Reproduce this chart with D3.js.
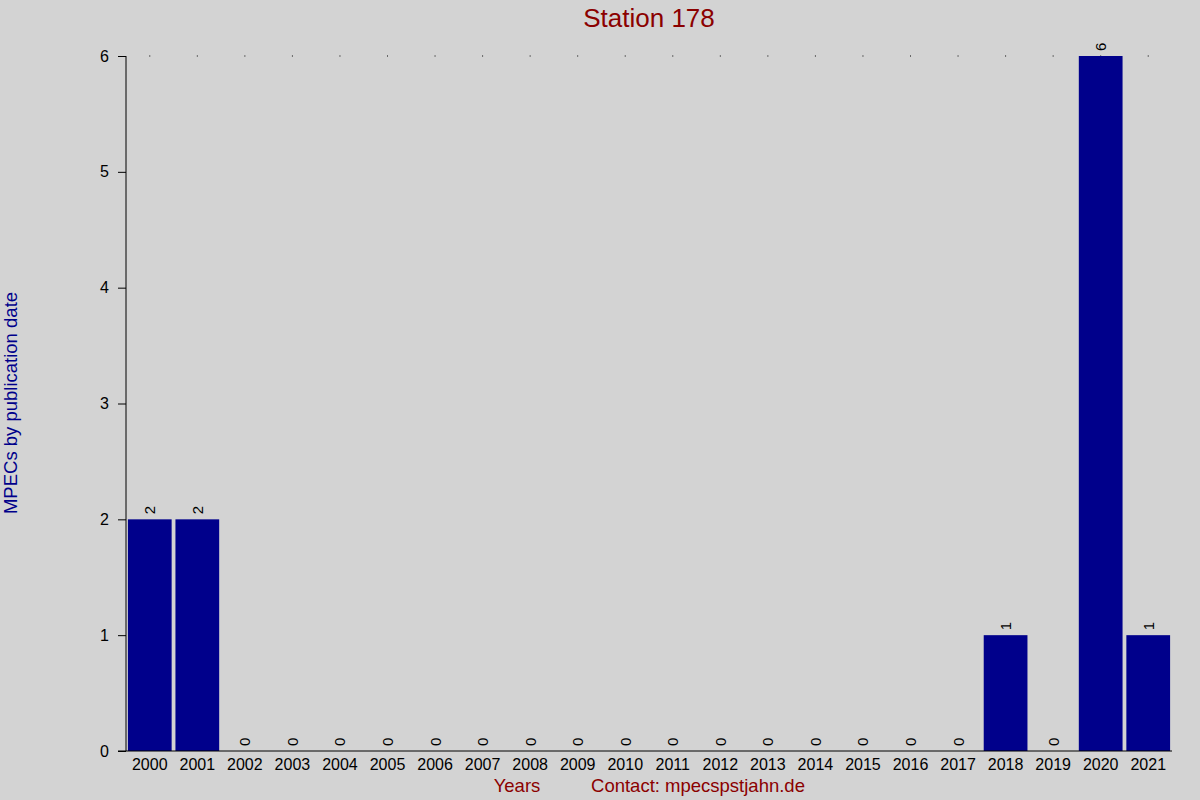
<!DOCTYPE html>
<html><head><meta charset="utf-8">
<script src="https://cdn.jsdelivr.net/npm/d3@7"></script>
<style>body{margin:0;background:#d3d3d3;} svg{display:block;}</style>
</head><body>
<script>
const years = ["2000","2001","2002","2003","2004","2005","2006","2007","2008","2009","2010","2011","2012","2013","2014","2015","2016","2017","2018","2019","2020","2021"];
const counts = [2,2,0,0,0,0,0,0,0,0,0,0,0,0,0,0,0,0,1,0,6,1];
const yTicks = [0,1,2,3,4,5,6];
const titleText = "Station 178";
const yLabel = "MPECs by publication date";
const xLabel = "Years";
const contact = "Contact: mpecspstjahn.de";

(function(){
const W = 1200, H = 800;
const svg = d3.select("body").append("svg").attr("width", W).attr("height", H)
  .style("font-family", "'Liberation Sans', Arial, sans-serif");
svg.append("rect").attr("width", W).attr("height", H).attr("fill", "#d3d3d3");

const pLeft = 126, pRight = 1172, pTop = 56, pBottom = 751;
const x = d3.scaleBand().domain(years).range([pLeft, pRight]).paddingInner(0.08).paddingOuter(0.04);
const y = d3.scaleLinear().domain([0, 6]).range([pBottom, pTop]);

// top dots
svg.append("g").selectAll("rect").data(years).join("rect")
  .attr("x", d => x(d) + x.bandwidth()/2 - 0.5).attr("y", y(6) - 0.5)
  .attr("width", 1).attr("height", 1).attr("fill", "#000");

// bars
svg.append("g").selectAll("rect").data(years).join("rect")
  .attr("x", d => x(d)).attr("width", x.bandwidth())
  .attr("y", (d,i) => y(counts[i])).attr("height", (d,i) => y(0) - y(counts[i]))
  .attr("fill", "#00008b");

// value labels
svg.append("g").selectAll("text").data(years).join("text")
  .attr("transform", (d,i) => `translate(${x(d) + x.bandwidth()/2 + 5.5},${y(counts[i]) - 5}) rotate(-90)`)
  .attr("text-anchor", "start").attr("font-size", 15).attr("fill", "#000")
  .text((d,i) => counts[i]);

// y axis
const yAxis = svg.append("g").attr("transform", `translate(${pLeft},0)`)
  .call(d3.axisLeft(y).tickValues(yTicks).tickFormat(d3.format("d")).tickSize(8).tickPadding(9));
yAxis.select(".domain").attr("stroke", "#000").attr("d", `M0,${pTop}V${pBottom}`);
yAxis.selectAll("text").attr("font-size", 16).attr("font-family", "'Liberation Sans', Arial, sans-serif").attr("fill", "#000");

// x axis
const xAxis = svg.append("g").attr("transform", `translate(0,${pBottom})`)
  .call(d3.axisBottom(x).tickSize(0).tickPadding(8));
xAxis.select(".domain").attr("stroke", "#000").attr("d", `M${pLeft-8},0H${pRight}`);
xAxis.selectAll("text").attr("font-size", 16).attr("font-family", "'Liberation Sans', Arial, sans-serif").attr("fill", "#000");

// title
svg.append("text").attr("x", 649).attr("y", 27).attr("text-anchor", "middle")
  .attr("font-size", 26).attr("fill", "#8b0000").text(titleText);

// y label
svg.append("text").attr("transform", `translate(17,403) rotate(-90)`).attr("text-anchor", "middle")
  .attr("font-size", 18.5).attr("fill", "#00008b").text(yLabel);

// x labels
svg.append("text").attr("x", 517).attr("y", 792).attr("text-anchor", "middle")
  .attr("font-size", 18.5).attr("fill", "#8b0000").text(xLabel);
svg.append("text").attr("x", 698).attr("y", 792).attr("text-anchor", "middle")
  .attr("font-size", 18.5).attr("fill", "#8b0000").text(contact);
})();
</script>
</body></html>
